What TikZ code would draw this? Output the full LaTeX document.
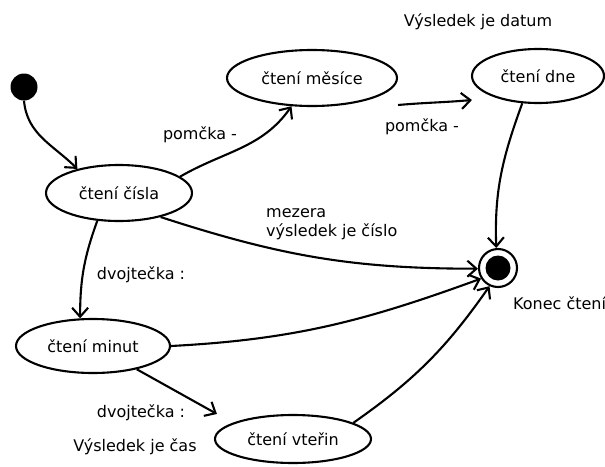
\documentclass[tikz,border=0pt]{standalone}
\usepackage{fontspec}
\setmainfont{DejaVu Sans}
\usetikzlibrary{shapes.geometric,arrows.meta,calc}
\begin{document}
\begin{tikzpicture}[x=1pt,y=-1pt,
  font=\fontsize{16}{19}\selectfont,
  st/.style={ellipse,draw,line width=2.1pt,inner sep=0pt},
  tr/.style={line width=2.1pt,-{Straight Barb[length=9pt,width=16pt]}},
  lbl/.style={inner sep=0pt}]
\useasboundingbox (0,0) rectangle (605,466);
% states
\node[circle,fill,minimum size=27pt,inner sep=0pt] (init) at (24,87) {};
\node[st,minimum width=146pt,minimum height=56pt] (cisla) at (119,193) {čtení čísla};
\node[st,minimum width=170pt,minimum height=56pt] (mesice) at (312,78) {čtení měsíce};
\node[st,minimum width=132pt,minimum height=54pt] (dne) at (538,76) {čtení dne};
\node[st,minimum width=154pt,minimum height=54pt] (minut) at (93,346) {čtení minut};
\node[st,minimum width=156pt,minimum height=48pt] (vterin) at (293,439) {čtení vteřin};
\node[circle,draw,line width=2.1pt,minimum size=38pt,inner sep=0pt] (end) at (498,268) {};
\node[circle,fill,minimum size=25pt,inner sep=0pt] (endin) at (end) {};
% labels
\node[lbl] (ldatum) at (478,22) {Výsledek je datum};
\node[lbl] (lp1) at (200,135) {pomčka -};
\node[lbl] (lp2) at (422,127) {pomčka -};
\node[lbl,anchor=west,align=left] (lmez) at (266,224) {mezera\\výsledek je číslo};
\node[lbl] (ld1) at (141,275) {dvojtečka :};
\node[lbl] (ld2) at (141,413) {dvojtečka :};
\node[lbl] (lcas) at (135,447) {Výsledek je čas};
\node[lbl,anchor=west] (lkon) at (513,303) {Konec čtení};
% transitions
\draw[tr] (init.south) to[out=-85,in=135] (cisla.150);
\draw[tr] (cisla.15) to[out=30,in=235] (mesice.234);
\draw[tr] ($(mesice.east)+(0,27)$) to[out=5,in=185] ($(dne.west)+(1,24)$);
\draw[tr] (dne.-120) to[out=-110,in=92] (end.95);
\draw[tr] (cisla.-30) to[out=-18,in=180] (end.182);
\draw[tr] (minut.east) to[out=3,in=200] (end.212);
\draw[tr] (vterin.15) to[out=35,in=235] (end.245);
\draw[tr] (cisla.-128) to[out=-110,in=90] (minut.115);
\draw[tr] (minut.-28) -- ($(vterin.west)+(3,-25)$);
\end{tikzpicture}
\end{document}
